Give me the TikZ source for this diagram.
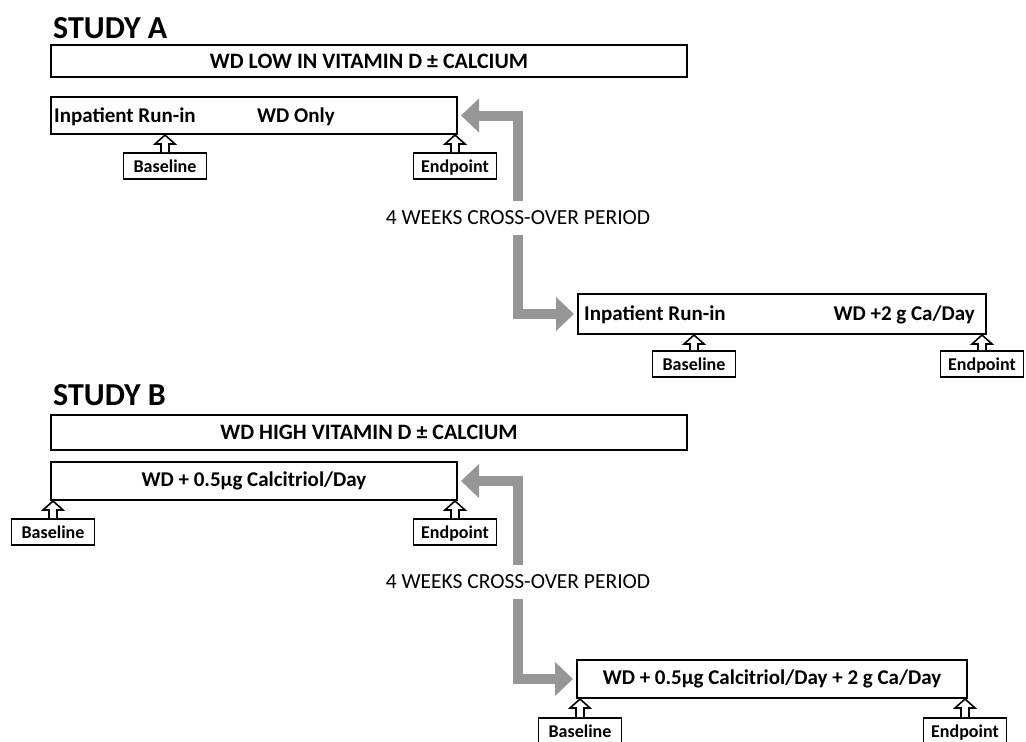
\documentclass[tikz,border=0pt]{standalone}
\usepackage{fontspec}
\setmainfont{Carlito}
\usetikzlibrary{arrows.meta,calc,positioning}
\definecolor{crossgray}{RGB}{150,150,150}

% hollow up-arrow from a callout box to the bar above it
\newcommand{\uptip}[2]{%
	\filldraw[tipline] ($(#1.north)+(-4,0)$) -- ($(#1.north |- #2.south)+(-4,9)$) -- ++(-6,0)
		-- (#1.north |- #2.south) -- ($(#1.north |- #2.south)+(10,9)$) -- ++(-6,0) -- ($(#1.north)+(4,0)$);}

\begin{document}
\begin{tikzpicture}[x=1pt,y=-1pt,
	bar/.style={draw,line width=2pt,rectangle,inner sep=0pt,font=\fontsize{21}{24}\selectfont\bfseries},
	bartext/.style={inner sep=0pt,font=\fontsize{21}{24}\selectfont\bfseries},
	headbar/.style={bar,font=\fontsize{22}{24}\selectfont\bfseries},
	markbox/.style={draw,line width=1.6pt,fill=white,rectangle,inner xsep=2pt,inner ysep=5pt,text height=15pt,text depth=1pt,minimum width=83pt,font=\fontsize{18}{20}\selectfont\bfseries,anchor=north},
	tipline/.style={draw=black,line width=1.6pt,fill=white,line join=miter},
	crossarrow/.style={line width=10pt,crossgray,shorten >=3pt,-{Triangle[width=33pt,length=18pt]}},
	crosslabel/.style={inner ysep=10pt,inner xsep=0pt,font=\fontsize{21.5}{24}\selectfont},
	study/.style={anchor=west,inner sep=0pt,font=\fontsize{32}{34}\selectfont\bfseries}]

	\useasboundingbox (0,0) rectangle (1026,742);

	% Study A
	\node[study] (studya) at (53,28) {STUDY A};
	\node[headbar,minimum width=636pt,minimum height=32pt] (atop) at (369,61) {WD LOW IN VITAMIN D ± CALCIUM};
	\node[bar,minimum width=406pt,minimum height=37pt] (a1) at (254,115.5) {};
	\node[bartext,anchor=west] (a1run) at ($(a1.west)+(4,1)$) {Inpatient Run-in};
	\node[bartext,anchor=west] (a1diet) at ($(a1.west)+(207,1)$) {WD Only};
	\node[bar,minimum width=408pt,minimum height=40pt] (a2) at (782,314) {};
	\node[bartext,anchor=west] (a2run) at ($(a2.west)+(7,1)$) {Inpatient Run-in};
	\node[bartext,anchor=east] (a2diet) at ($(a2.east)+(-12,1)$) {WD +2 g Ca/Day};

	\node[markbox] (a1base) at (165,152) {Baseline};
	\node[markbox] (a1end) at (455,152) {Endpoint};
	\node[markbox] (a2base) at (694,350) {Baseline};
	\node[markbox] (a2end) at (982,350) {Endpoint};
	\uptip{a1base}{a1}
	\uptip{a1end}{a1}
	\uptip{a2base}{a2}
	\uptip{a2end}{a2}

	\node[crosslabel] (across) at (518,218) {4 WEEKS CROSS-OVER PERIOD};
	\draw[crossarrow] (across.north) |- (a1.east);
	\draw[crossarrow] (across.south) |- (a2.west);

	% Study B
	\node[study] (studyb) at (53,395) {STUDY B};
	\node[headbar,minimum width=636pt,minimum height=35pt] (btop) at (369,432.5) {WD HIGH VITAMIN D ± CALCIUM};
	\node[bar,minimum width=406pt,minimum height=38pt] (b1) at (254,481) {WD + 0.5µg Calcitriol/Day};
	\node[bar,minimum width=390pt,minimum height=38pt] (b2) at (772,679) {WD + 0.5µg Calcitriol/Day + 2 g Ca/Day};

	\node[markbox] (b1base) at (53,518) {Baseline};
	\node[markbox] (b1end) at (455,518) {Endpoint};
	\node[markbox] (b2base) at (580,717) {Baseline};
	\node[markbox] (b2end) at (965,717) {Endpoint};
	\uptip{b1base}{b1}
	\uptip{b1end}{b1}
	\uptip{b2base}{b2}
	\uptip{b2end}{b2}

	\node[crosslabel] (bcross) at (518,582) {4 WEEKS CROSS-OVER PERIOD};
	\draw[crossarrow] (bcross.north) |- (b1.east);
	\draw[crossarrow] (bcross.south) |- (b2.west);

\end{tikzpicture}
\end{document}
